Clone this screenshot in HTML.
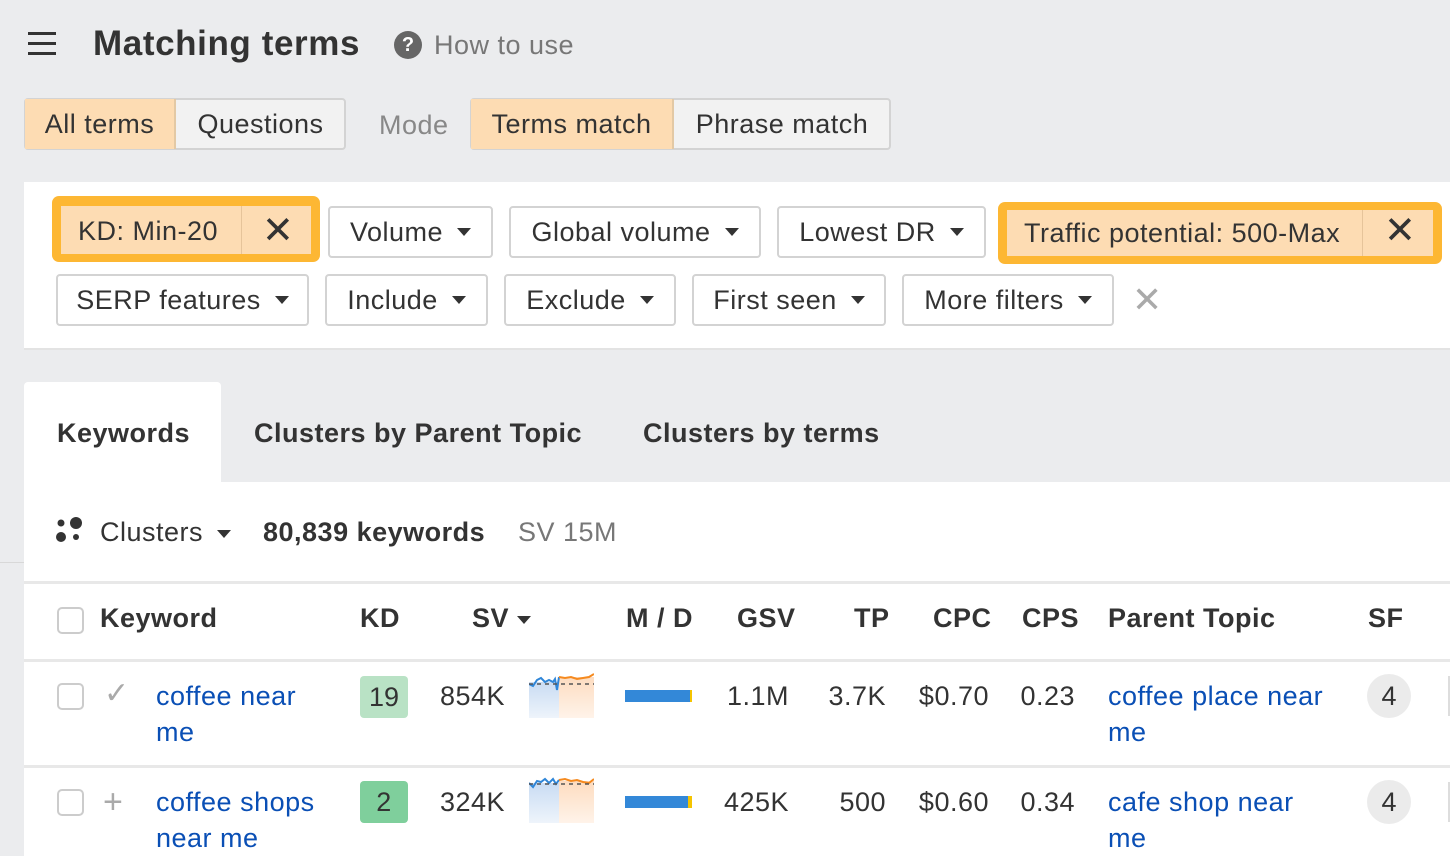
<!DOCTYPE html>
<html><head><meta charset="utf-8"><style>
*{box-sizing:border-box;margin:0;padding:0}
body{width:1450px;height:856px;overflow:hidden;background:#ebecee;font-family:"Liberation Sans",Arial,sans-serif;color:#333;position:relative}
.a{position:absolute;white-space:nowrap}
.btn{position:absolute;border:2px solid #d3d3d3;border-radius:4px;background:#fff;font-size:27px;letter-spacing:0.5px;color:#333;display:flex;align-items:center;justify-content:center;gap:14px}
.tri{display:inline-block;width:0;height:0;border-left:7px solid transparent;border-right:7px solid transparent;border-top:8px solid #333}
.t26{font-size:27px;letter-spacing:0.5px}
.b{font-weight:bold}
.blue{color:#0a4fb5}
.r{text-align:right}
.cb{position:absolute;width:27px;height:27px;border:2px solid #ccc;border-radius:5px;background:#fff}
.hl{position:absolute;left:24px;width:1426px;height:3px;background:#e8e8e8}
</style></head><body>
<!-- header -->
<div class="a" style="left:28px;top:32px;width:28px;height:3px;background:#333"></div>
<div class="a" style="left:28px;top:42px;width:28px;height:3px;background:#333"></div>
<div class="a" style="left:28px;top:52px;width:28px;height:3px;background:#333"></div>
<div class="a b" style="left:93px;top:24px;font-size:35px;letter-spacing:0.6px;color:#333">Matching terms</div>
<div class="a" style="left:394px;top:31px;width:28px;height:28px;border-radius:50%;background:#666;color:#fff;font-size:20px;font-weight:bold;text-align:center;line-height:28px">?</div>
<div class="a t26" style="left:434px;top:30px;color:#777">How to use</div>
<!-- toggles -->
<div class="a" style="left:24px;top:98px;width:322px;height:52px;border:2px solid #d3d3d3;border-radius:4px;background:#f2f2f2"></div>
<div class="a t26" style="left:25px;top:99px;width:151px;height:50px;background:#fddcb3;line-height:50px;text-align:center;border-right:2px solid #e3c9a5">All terms</div>
<div class="a t26" style="left:176px;top:99px;width:169px;height:50px;line-height:50px;text-align:center">Questions</div>
<div class="a t26" style="left:379px;top:110px;color:#888">Mode</div>
<div class="a" style="left:470px;top:98px;width:421px;height:52px;border:2px solid #d3d3d3;border-radius:4px;background:#f2f2f2"></div>
<div class="a t26" style="left:471px;top:99px;width:203px;height:50px;background:#fddcb3;line-height:50px;text-align:center;border-right:2px solid #e3c9a5">Terms match</div>
<div class="a t26" style="left:674px;top:99px;width:216px;height:50px;line-height:50px;text-align:center">Phrase match</div>
<!-- filter panel -->
<div class="a" style="left:24px;top:182px;width:1426px;height:168px;background:#fff;border-bottom:2px solid #e3e3e3"></div>
<div class="a" style="left:52px;top:196px;width:268px;height:66px;background:#fdb733;border-radius:7px"></div>
<div class="a t26" style="left:61px;top:206px;width:250px;height:48px;background:#fddcb3;line-height:50px"><span style="margin-left:17px">KD: Min-20</span></div>
<div class="a" style="left:241px;top:206px;width:1px;height:48px;background:#e6c49a"></div>
<div class="a" style="left:262px;top:203px;font-size:38px;color:#333;line-height:56px">✕</div>
<div class="btn" style="left:328px;top:206px;width:165px;height:52px">Volume <span class="tri"></span></div>
<div class="btn" style="left:509px;top:206px;width:252px;height:52px">Global volume <span class="tri"></span></div>
<div class="btn" style="left:777px;top:206px;width:209px;height:52px">Lowest DR <span class="tri"></span></div>
<div class="a" style="left:998px;top:202px;width:444px;height:62px;background:#fdb733;border-radius:7px"></div>
<div class="a t26" style="left:1007px;top:210px;width:426px;height:46px;background:#fddcb3;line-height:46px"><span style="margin-left:17px">Traffic potential: 500-Max</span></div>
<div class="a" style="left:1362px;top:210px;width:1px;height:46px;background:#e6c49a"></div>
<div class="a" style="left:1384px;top:203px;font-size:38px;color:#333;line-height:56px">✕</div>
<div class="btn" style="left:56px;top:274px;width:253px;height:52px">SERP features <span class="tri"></span></div>
<div class="btn" style="left:325px;top:274px;width:163px;height:52px">Include <span class="tri"></span></div>
<div class="btn" style="left:504px;top:274px;width:172px;height:52px">Exclude <span class="tri"></span></div>
<div class="btn" style="left:692px;top:274px;width:194px;height:52px">First seen <span class="tri"></span></div>
<div class="btn" style="left:902px;top:274px;width:212px;height:52px">More filters <span class="tri"></span></div>
<div class="a" style="left:1132px;top:278px;font-size:36px;color:#aaa;line-height:44px">✕</div>
<!-- tabs -->
<div class="a" style="left:24px;top:382px;width:197px;height:102px;background:#fff;border-radius:4px 4px 0 0"></div>
<div class="a t26 b" style="left:57px;top:418px">Keywords</div>
<div class="a t26 b" style="left:254px;top:418px">Clusters by Parent Topic</div>
<div class="a t26 b" style="left:643px;top:418px">Clusters by terms</div>
<div class="a" style="left:24px;top:482px;width:1426px;height:374px;background:#fff"></div>
<div class="a" style="left:0;top:562px;width:24px;height:1px;background:#d8d8d8"></div>
<!-- cluster row -->
<svg class="a" style="left:56px;top:516px" width="30" height="30"><circle cx="5" cy="7" r="3.5" fill="#333"/><circle cx="20" cy="7" r="6" fill="#333"/><circle cx="5" cy="21" r="5" fill="#333"/><circle cx="20" cy="21" r="3" fill="#333"/></svg>
<div class="a t26" style="left:100px;top:517px">Clusters <span class="tri" style="margin-left:6px;vertical-align:middle"></span></div>
<div class="a t26 b" style="left:263px;top:517px">80,839 keywords</div>
<div class="a t26" style="left:518px;top:517px;color:#777">SV 15M</div>
<div class="hl" style="top:581px"></div>
<!-- header row -->
<div class="cb" style="left:57px;top:607px"></div>
<div class="a t26 b" style="left:100px;top:603px">Keyword</div>
<div class="a t26 b" style="left:360px;top:603px">KD</div>
<div class="a t26 b" style="left:472px;top:603px">SV <span class="tri" style="vertical-align:middle"></span></div>
<div class="a t26 b" style="left:626px;top:603px">M / D</div>
<div class="a t26 b" style="left:737px;top:603px">GSV</div>
<div class="a t26 b" style="left:854px;top:603px">TP</div>
<div class="a t26 b" style="left:933px;top:603px">CPC</div>
<div class="a t26 b" style="left:1022px;top:603px">CPS</div>
<div class="a t26 b" style="left:1108px;top:603px">Parent Topic</div>
<div class="a t26 b" style="left:1368px;top:603px">SF</div>
<div class="hl" style="top:659px"></div>
<!-- row 1 -->
<div class="cb" style="left:57px;top:683px"></div>
<div class="a" style="left:104px;top:676px;font-size:30px;color:#aaa">✓</div>
<div class="a t26 blue" style="left:156px;top:678px;line-height:36px">coffee near<br>me</div>
<div class="a t26" style="left:360px;top:676px;width:48px;height:42px;background:#b9e2c5;border-radius:4px;text-align:center;line-height:42px;letter-spacing:0">19</div>
<div class="a t26 r" style="left:405px;top:681px;width:100px">854K</div>
<svg class="a" style="left:529px;top:672px" width="65" height="46"><defs><linearGradient id="gb" x1="0" y1="0" x2="0" y2="1"><stop offset="0" stop-color="#c9dcf3"/><stop offset="1" stop-color="#eef4fb"/></linearGradient><linearGradient id="go" x1="0" y1="0" x2="0" y2="1"><stop offset="0" stop-color="#fddcc0"/><stop offset="1" stop-color="#fff3e9"/></linearGradient></defs><rect x="0" y="10" width="30" height="36" fill="url(#gb)"/><rect x="30" y="5" width="35" height="41" fill="url(#go)"/><polyline points="0,12 4,14 8,8 12,6 16,10 20,8 24,10 26,7 28,18 30,5" fill="none" stroke="#2f86d8" stroke-width="2"/><polyline points="30,5 36,6 42,5 48,7 54,6 60,5 65,2" fill="none" stroke="#f58a1f" stroke-width="2"/><line x1="0" y1="12" x2="65" y2="12" stroke="#555" stroke-width="1.5" stroke-dasharray="4,4"/></svg>
<div class="a" style="left:625px;top:690px;width:65px;height:12px;background:#3388d8"></div><div class="a" style="left:690px;top:690px;width:2px;height:12px;background:#f5c400"></div>
<div class="a t26 r" style="left:689px;top:681px;width:100px">1.1M</div>
<div class="a t26 r" style="left:786px;top:681px;width:100px">3.7K</div>
<div class="a t26 r" style="left:889px;top:681px;width:100px">$0.70</div>
<div class="a t26 r" style="left:975px;top:681px;width:100px">0.23</div>
<div class="a t26 blue" style="left:1108px;top:678px;line-height:36px">coffee place near<br>me</div>
<div class="a t26" style="left:1367px;top:674px;width:44px;height:44px;border-radius:50%;background:#ebebeb;text-align:center;line-height:44px;letter-spacing:0">4</div>
<div class="a" style="left:1448px;top:676px;width:2px;height:40px;background:#ddd"></div>
<div class="hl" style="top:765px"></div>
<!-- row 2 -->
<div class="cb" style="left:57px;top:789px"></div>
<div class="a" style="left:103px;top:782px;font-size:34px;color:#aaa;line-height:40px">+</div>
<div class="a t26 blue" style="left:156px;top:784px;line-height:36px">coffee shops<br>near me</div>
<div class="a t26" style="left:360px;top:781px;width:48px;height:42px;background:#7fcf9c;border-radius:4px;text-align:center;line-height:42px">2</div>
<div class="a t26 r" style="left:405px;top:787px;width:100px">324K</div>
<svg class="a" style="left:529px;top:777px" width="65" height="46"><rect x="0" y="6" width="30" height="40" fill="url(#gb)"/><rect x="30" y="4" width="35" height="42" fill="url(#go)"/><polyline points="0,6 4,10 8,4 12,5 16,2 20,6 24,2 27,7 30,3" fill="none" stroke="#2f86d8" stroke-width="2"/><polyline points="30,3 36,2 42,4 48,3 54,5 60,6 65,2" fill="none" stroke="#f58a1f" stroke-width="2"/><line x1="0" y1="7" x2="65" y2="7" stroke="#555" stroke-width="1.5" stroke-dasharray="4,4"/></svg>
<div class="a" style="left:625px;top:796px;width:63px;height:12px;background:#3388d8"></div><div class="a" style="left:688px;top:796px;width:4px;height:12px;background:#f5c400"></div>
<div class="a t26 r" style="left:689px;top:787px;width:100px">425K</div>
<div class="a t26 r" style="left:786px;top:787px;width:100px">500</div>
<div class="a t26 r" style="left:889px;top:787px;width:100px">$0.60</div>
<div class="a t26 r" style="left:975px;top:787px;width:100px">0.34</div>
<div class="a t26 blue" style="left:1108px;top:784px;line-height:36px">cafe shop near<br>me</div>
<div class="a t26" style="left:1367px;top:780px;width:44px;height:44px;border-radius:50%;background:#ebebeb;text-align:center;line-height:44px;letter-spacing:0">4</div>
<div class="a" style="left:1448px;top:782px;width:2px;height:40px;background:#ddd"></div>
</body></html>
